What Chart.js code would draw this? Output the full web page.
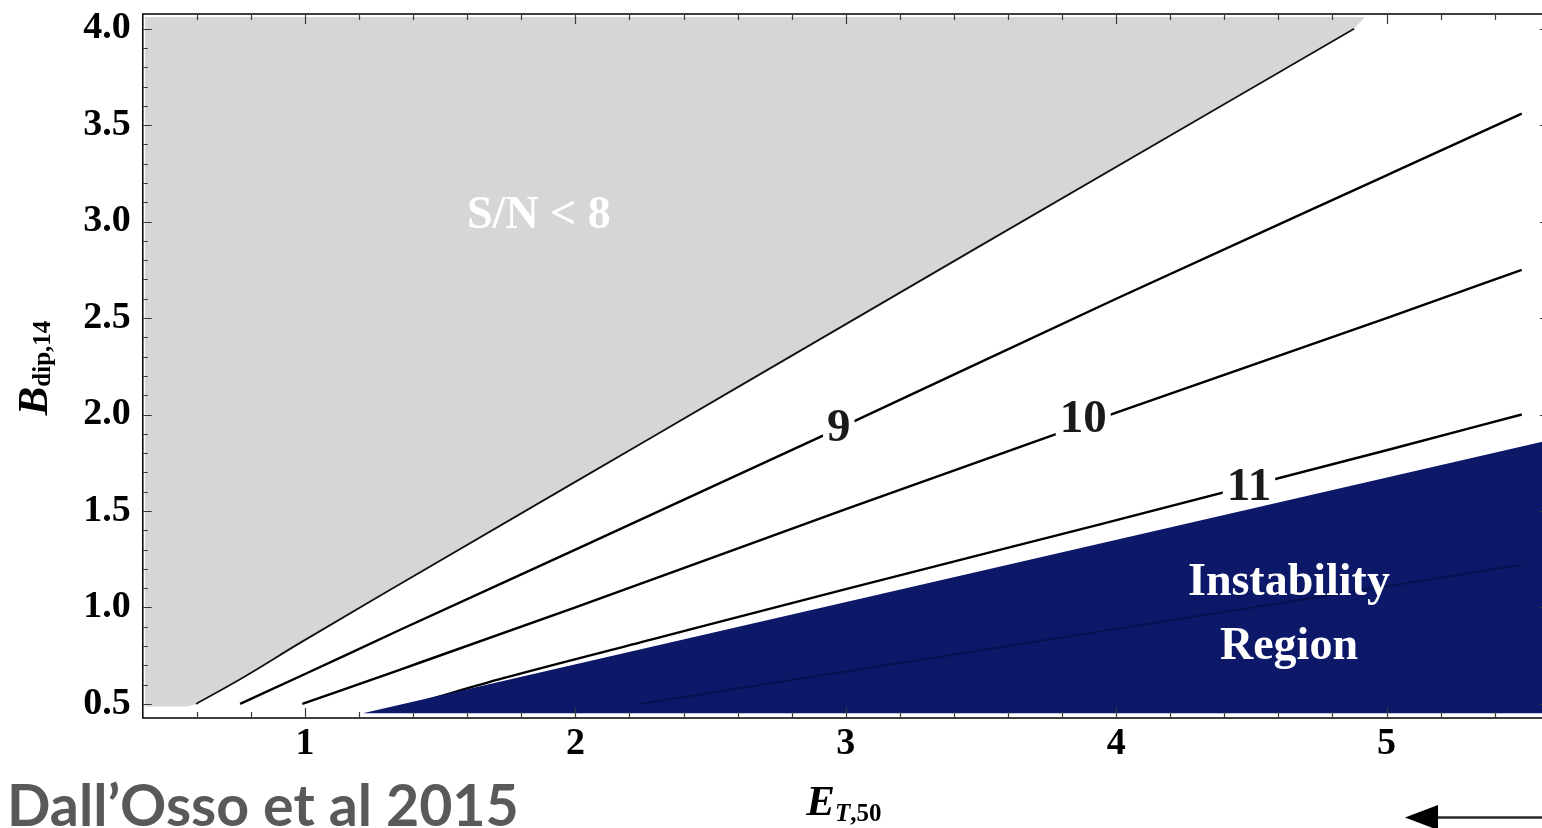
<!DOCTYPE html>
<html><head><meta charset="utf-8">
<script src="https://cdn.jsdelivr.net/npm/chart.js@4/dist/chart.umd.min.js"></script>
<style>html,body{margin:0;padding:0;background:#fff;overflow:hidden;}canvas{display:block;}</style>
</head><body>
<div style="width:1550px;height:828px;"><canvas id="c" width="1550" height="828"></canvas></div>
<script>
// ---- axis ticks ----
const xTicks = [1, 2, 3, 4, 5];
const xTickLabels = ['1', '2', '3', '4', '5'];
const yTicks = [0.5, 1.0, 1.5, 2.0, 2.5, 3.0, 3.5, 4.0];
const yTickLabels = ['0.5', '1.0', '1.5', '2.0', '2.5', '3.0', '3.5', '4.0'];
const xMinorTicks = [0.6,0.8,1.2,1.4,1.6,1.8,2.2,2.4,2.6,2.8,3.2,3.4,3.6,3.8,4.2,4.4,4.6,4.8,5.2,5.4];
const yMinorTicks = [0.6,0.7,0.8,0.9,1.1,1.2,1.3,1.4,1.6,1.7,1.8,1.9,2.1,2.2,2.3,2.4,2.6,2.7,2.8,2.9,3.1,3.2,3.3,3.4,3.6,3.7,3.8,3.9];

// ---- S/N contour lines (E_T,50 , B_dip,14) ----
const sn8E  = [0.597, 0.76, 0.98, 1.35, 2.28, 3.47, 4.88];
const sn8B  = [0.50, 0.628, 0.815, 1.12, 1.88, 2.852, 4.00];
const sn9E  = [0.76, 1.0, 1.35, 2.0, 3.0, 4.0, 5.0, 5.5];
const sn9B  = [0.50, 0.655, 0.883, 1.30, 1.945, 2.60, 3.24, 3.56];
const sn10E = [0.99, 1.35, 2.0, 3.0, 4.0, 5.0, 5.5];
const sn10B = [0.50, 0.677, 1.0, 1.51, 2.01, 2.50, 2.75];
const sn11E = [1.45, 1.73, 2.28, 3.0, 3.94, 5.0, 5.5];
const sn11B = [0.520, 0.632, 0.833, 1.095, 1.431, 1.815, 2.0];
const sn12E = [2.24, 3.0, 4.0, 5.0, 5.5];
const sn12B = [0.50, 0.668, 0.889, 1.11, 1.221];

// ---- shaded regions ----
const lowSNE = [0.408, 4.92, 4.88, 3.47, 2.28, 1.35, 0.98, 0.76, 0.597, 0.567, 0.408, 0.408];
const lowSNB = [4.06, 4.06, 4.00, 2.852, 1.88, 1.12, 0.815, 0.628, 0.50, 0.487, 0.487, 4.06];
const instE  = [1.214, 5.6, 5.6, 1.214];
const instB  = [0.452, 0.452, 1.866, 0.452];

// ---- labels ----
const contourLabels = ['9', '10', '11'];
const contourLabelE = [2.974, 3.878, 4.491];
const contourLabelB = [1.942, 1.988, 1.638];
const regionLabel1 = 'S/N < 8';
const regionLabel2 = ['Instability', 'Region'];

const pts = (E, B) => E.map((e, i) => ({x: e, y: B[i]}));

const SERIF = '"Liberation Serif", "Times New Roman", serif';

const overlay = {
  id: 'overlay',
  afterDatasetsDraw(chart) {
    const {ctx, chartArea: a, scales: {x, y}} = chart;
    ctx.save();
    // contour labels with white gap
    ctx.font = 'bold 47px ' + SERIF;
    contourLabels.forEach((t, i) => {
      const px = x.getPixelForValue(contourLabelE[i]);
      const py = y.getPixelForValue(contourLabelB[i]);
      const m = ctx.measureText(t);
      const asc = m.actualBoundingBoxAscent, desc = m.actualBoundingBoxDescent;
      ctx.fillStyle = '#fff';
      ctx.fillRect(px - m.width / 2 - 4, py - (asc + desc) / 2 - 3, m.width + 8, asc + desc + 6);
      ctx.fillStyle = '#1a1a1a';
      ctx.textAlign = 'center';
      ctx.textBaseline = 'alphabetic';
      ctx.fillText(t, px, py + (asc - desc) / 2);
    });
    // region labels
    ctx.fillStyle = '#ffffff';
    ctx.textAlign = 'center';
    ctx.textBaseline = 'alphabetic';
    ctx.font = 'bold 46px ' + SERIF;
    ctx.fillText(regionLabel1, x.getPixelForValue(1.865), y.getPixelForValue(2.965));
    ctx.fillText(regionLabel2[0], x.getPixelForValue(4.639), y.getPixelForValue(1.063));
    ctx.fillText(regionLabel2[1], x.getPixelForValue(4.639), y.getPixelForValue(0.7345));

    // frame
    ctx.strokeStyle = '#000';
    ctx.lineWidth = 1.5;
    ctx.strokeRect(a.left, a.top, a.right - a.left, a.bottom - a.top);
    // inside ticks
    ctx.strokeStyle = '#3a3a3a';
    ctx.lineWidth = 1.2;
    ctx.beginPath();
    const xt = (v, len) => {
      const p = Math.round(x.getPixelForValue(v)) + 0.5;
      ctx.moveTo(p, a.bottom); ctx.lineTo(p, a.bottom - len);
      ctx.moveTo(p, a.top); ctx.lineTo(p, a.top + len);
    };
    const yt = (v, len) => {
      const p = Math.round(y.getPixelForValue(v)) + 0.5;
      ctx.moveTo(a.left, p); ctx.lineTo(a.left + len, p);
      ctx.moveTo(a.right, p); ctx.lineTo(a.right - len, p);
    };
    xTicks.forEach(v => xt(v, 10));
    xMinorTicks.forEach(v => xt(v, 6));
    yTicks.forEach(v => yt(v, 9));
    yMinorTicks.forEach(v => yt(v, 5));
    ctx.stroke();
    ctx.restore();
  },
  afterDraw(chart) {
    const {ctx, chartArea: a} = chart;
    ctx.save();
    ctx.fillStyle = '#000';
    ctx.textBaseline = 'alphabetic';
    ctx.textAlign = 'left';
    // x title: E_{T,50}
    const fMain = 'italic bold 43px ' + SERIF;
    const fSubI = 'italic bold 25px ' + SERIF;
    const fSub = 'bold 25px ' + SERIF;
    ctx.font = fMain; const wE = ctx.measureText('E').width;
    ctx.font = fSubI; const wT = ctx.measureText('T').width;
    ctx.font = fSub; const w50 = ctx.measureText(',50').width;
    const cx = (a.left + a.right) / 2 - 2;
    let sx = cx - (wE + wT + w50) / 2;
    const by = a.bottom + 97;
    ctx.font = fMain; ctx.fillText('E', sx, by); sx += wE;
    ctx.font = fSubI; ctx.fillText('T', sx, by + 6); sx += wT;
    ctx.font = fSub; ctx.fillText(',50', sx, by + 6);

    // y title: B_{dip,14}
    ctx.save();
    ctx.translate(47, (a.top + a.bottom) / 2 + 2);
    ctx.rotate(-Math.PI / 2);
    ctx.font = fMain; const wB = ctx.measureText('B').width;
    ctx.font = fSub; const wd = ctx.measureText('dip,14').width;
    let sy = -(wB + wd) / 2;
    ctx.font = fMain; ctx.fillText('B', sy, 0); sy += wB;
    ctx.font = fSub; ctx.fillText('dip,14', sy, 3);
    ctx.restore();

    // citation
    ctx.fillStyle = '#595959';
    ctx.font = 'bold 50px Lato, "Open Sans", sans-serif';
    const cite = 'Dall\u2019Osso et al 2015';
    const cw = ctx.measureText(cite).width;
    const fs = 50 * 512 / cw;
    ctx.font = 'bold ' + fs.toFixed(1) + 'px Lato, "Open Sans", sans-serif';
    ctx.fillText(cite, 7, 826);

    // arrow
    ctx.strokeStyle = '#2a2a2a';
    ctx.lineWidth = 2.5;
    ctx.beginPath(); ctx.moveTo(1560, 817.5); ctx.lineTo(1430, 817.5); ctx.stroke();
    ctx.fillStyle = '#000';
    ctx.beginPath(); ctx.moveTo(1405, 817.5); ctx.lineTo(1438, 805); ctx.lineTo(1438, 830); ctx.closePath(); ctx.fill();
    ctx.restore();
  }
};

const lineDs = (E, B, color, width, order) => ({
  data: pts(E, B), showLine: true, pointRadius: 0, borderColor: color,
  borderWidth: width, fill: false, cubicInterpolationMode: 'monotone', order: order
});

new Chart(document.getElementById('c'), {
  type: 'scatter',
  data: {
    datasets: [
      {data: pts(lowSNE, lowSNB), showLine: true, pointRadius: 0, borderWidth: 0, borderColor: 'rgba(0,0,0,0)',
       backgroundColor: '#d6d6d6', fill: 'shape', tension: 0, order: 10},
      lineDs(sn8E, sn8B, '#111', 1.8, 9),
      lineDs(sn9E, sn9B, '#000', 2.4, 8),
      lineDs(sn10E, sn10B, '#000', 2.4, 7),
      lineDs(sn11E, sn11B, '#000', 2.4, 6),
      {data: pts(instE, instB), showLine: true, pointRadius: 0, borderWidth: 0, borderColor: 'rgba(0,0,0,0)',
       backgroundColor: '#0d1868', fill: 'shape', tension: 0, order: 5},
      lineDs(sn12E, sn12B, '#08114e', 2, 4)
    ]
  },
  options: {
    responsive: false, animation: false, devicePixelRatio: 1, events: [],
    layout: {padding: {top: 14, right: 1.2, left: 0, bottom: 0}},
    plugins: {legend: {display: false}, tooltip: {enabled: false}},
    scales: {
      x: {
        type: 'linear', position: 'bottom', min: 0.4, max: 5.6,
        afterBuildTicks: s => { s.ticks = xTicks.map(v => ({value: v})); },
        afterFit: s => { s.height = 110; s.paddingLeft = 0; s.paddingRight = 0; },
        grid: {display: false, drawTicks: false}, border: {display: false},
        ticks: {font: {family: 'Liberation Serif', weight: 'bold', size: 38}, color: '#000', padding: 3,
                maxRotation: 0, autoSkip: false, callback: v => xTickLabels[xTicks.indexOf(v)]}
      },
      y: {
        type: 'linear', position: 'left', min: 0.427, max: 4.076,
        afterBuildTicks: s => { s.ticks = yTicks.map(v => ({value: v})); },
        afterFit: s => { s.width = 142.8; s.paddingTop = 0; s.paddingBottom = 0; },
        grid: {display: false, drawTicks: false}, border: {display: false},
        ticks: {font: {family: 'Liberation Serif', weight: 'bold', size: 38}, color: '#000', padding: 12,
                autoSkip: false, callback: v => yTickLabels[yTicks.indexOf(v)]}
      }
    }
  },
  plugins: [overlay]
});
</script>
</body></html>
